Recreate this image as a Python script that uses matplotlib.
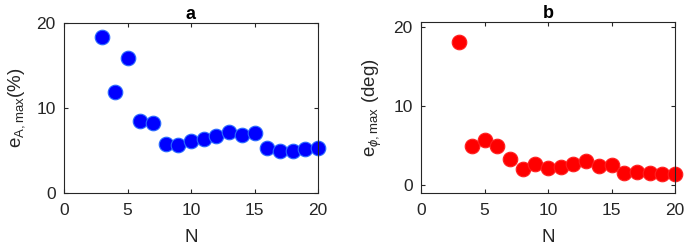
import matplotlib
matplotlib.use("Agg")
import matplotlib.pyplot as plt

plt.rcParams['font.family'] = ['Liberation Sans', 'DejaVu Sans']
plt.rcParams['mathtext.fontset'] = 'custom'
plt.rcParams['mathtext.rm'] = 'Liberation Sans'
plt.rcParams['mathtext.it'] = 'Liberation Sans:italic'

# Data
N = [3, 4, 5, 6, 7, 8, 9, 10, 11, 12, 13, 14, 15, 16, 17, 18, 19, 20]
eA_max = [18.4, 11.85, 15.85, 8.5, 8.2, 5.8, 5.7, 6.15, 6.35, 6.7, 7.2, 6.8, 7.1,
          5.35, 4.95, 4.95, 5.15, 5.35]
ephi_max = [18.1, 4.95, 5.75, 5.0, 3.35, 2.0, 2.6, 2.1, 2.3, 2.7, 3.1, 2.4, 2.5,
            1.5, 1.6, 1.55, 1.4, 1.45]

fig = plt.figure(figsize=(6.85, 2.5), dpi=100)
ax1 = fig.add_axes([64 / 685, 57 / 250, 254 / 685, 170 / 250])
ax2 = fig.add_axes([421 / 685, 57 / 250, 254 / 685, 171 / 250])

def style(ax):
    for s in ax.spines.values():
        s.set_color('#262626')
        s.set_linewidth(0.8)
    ax.tick_params(direction='in', top=True, right=True, labelsize=12.5,
                   length=3, width=0.8, colors='#262626')
    ax.tick_params(axis='x', pad=7)
    ax.tick_params(axis='y', pad=6)
    ax.set_xlim(0, 20)
    ax.set_xticks([0, 5, 10, 15, 20])
    ax.set_xlabel('N', fontsize=13.5, color='#262626', labelpad=8)

ax1.plot(N, eA_max, 'o', color='#0000ff', markeredgecolor='#2a6bff',
         markeredgewidth=0.8, markersize=10.5, clip_on=False)
ax1.set_ylim(0, 20)
ax1.set_yticks([0, 10, 20])
ax1.set_ylabel(r'e$_{\mathrm{A,max}}$(%)', fontsize=13.5, color='#262626', labelpad=7)
ax1.set_title('a', fontsize=13, fontweight='bold', pad=3)
style(ax1)

ax2.plot(N, ephi_max, 'o', color='#ff0000', markeredgecolor='#ff2020',
         markeredgewidth=0.8, markersize=10.5, clip_on=False)
ax2.set_ylim(-1, 20.6)
ax2.set_yticks([0, 10, 20])
ax2.set_ylabel(r'e$_{\phi\mathrm{,max}}$ (deg)', fontsize=13.5, color='#262626', labelpad=7)
ax2.set_title('b', fontsize=13, fontweight='bold', pad=3)
style(ax2)

fig.savefig('out.png', dpi=100)
